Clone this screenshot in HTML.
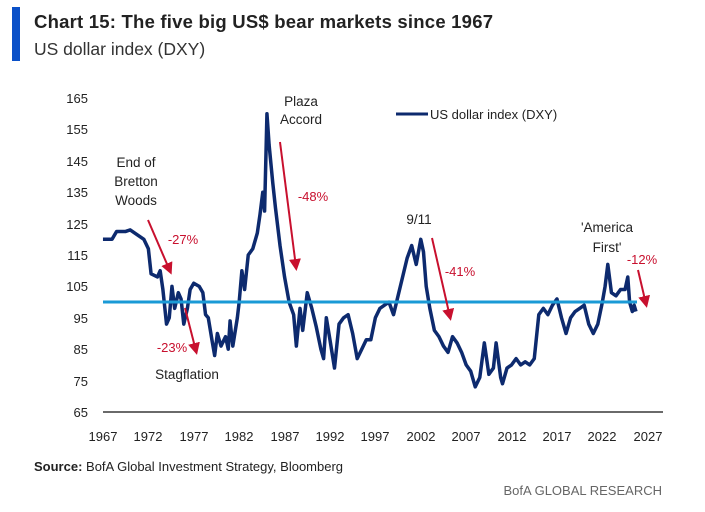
<!DOCTYPE html>
<html><head><meta charset="utf-8"><style>
body{margin:0;background:#fff;width:705px;height:507px;overflow:hidden;font-family:"Liberation Sans",sans-serif}
</style></head><body>
<svg width="705" height="507" xmlns="http://www.w3.org/2000/svg" font-family="Liberation Sans, sans-serif">
<rect x="12" y="7" width="8" height="54" fill="#0a50c8"/>
<text x="34" y="28" font-size="18.5" font-weight="bold" fill="#222" textLength="459">Chart 15: The five big US$ bear markets since 1967</text>
<text x="34" y="55" font-size="17.5" fill="#333">US dollar index (DXY)</text>
<g font-size="13" fill="#222" text-anchor="end">
<text x="88" y="103">165</text><text x="88" y="134">155</text><text x="88" y="166">145</text><text x="88" y="197">135</text><text x="88" y="229">125</text><text x="88" y="260">115</text><text x="88" y="291">105</text><text x="88" y="323">95</text><text x="88" y="354">85</text><text x="88" y="386">75</text><text x="88" y="417">65</text>
</g>
<g font-size="13" fill="#222" text-anchor="middle">
<text x="103" y="441">1967</text><text x="148" y="441">1972</text><text x="194" y="441">1977</text><text x="239" y="441">1982</text><text x="285" y="441">1987</text><text x="330" y="441">1992</text><text x="375" y="441">1997</text><text x="421" y="441">2002</text><text x="466" y="441">2007</text><text x="512" y="441">2012</text><text x="557" y="441">2017</text><text x="602" y="441">2022</text><text x="648" y="441">2027</text>
</g>
<line x1="103" y1="412" x2="663" y2="412" stroke="#111" stroke-width="1.2"/>
<g transform="translate(-17757.4,616.1) scale(9.08,-3.14)">
<polyline fill="none" stroke="#0d2a6e" stroke-width="3.5" vector-effect="non-scaling-stroke" stroke-linejoin="round" points="1967,120 1968,120 1968.5,122.5 1969.5,122.5 1970,123 1971,121 1971.5,120 1972,117 1972.3,109 1973,108 1973.3,110 1973.6,104 1974,93 1974.3,95 1974.6,105 1974.9,98 1975.3,103 1975.6,101 1975.9,93 1976.3,98 1976.6,104 1977,106 1977.6,105 1978,103 1978.3,96 1978.6,95 1979,88 1979.3,83 1979.6,90 1980,86 1980.5,89 1980.8,85 1981,94 1981.3,86 1981.8,95 1982,100 1982.3,110 1982.6,104 1983,115 1983.5,117 1984,122 1984.3,128 1984.6,135 1984.8,129 1985.06,160 1985.3,150 1985.7,138 1986,130 1986.5,118 1987,108 1987.5,100 1988,96 1988.3,86 1988.7,98 1989,91 1989.5,103 1990,98 1990.5,92 1991,85 1991.3,82 1991.6,95 1992,88 1992.5,79 1993,93 1993.5,95 1994,96 1994.5,90 1995,82 1995.5,85 1996,88 1996.5,88 1997,95 1997.5,98 1998,99 1998.5,100 1999,96 1999.5,102 2000,108 2000.5,114 2001,118 2001.5,112 2002,120 2002.3,116 2002.6,105 2003,98 2003.5,91 2004,89 2004.5,86 2005,84 2005.5,89 2006,87 2006.5,84 2007,80 2007.5,78 2008,73 2008.5,76 2009,87 2009.5,77 2010,79 2010.3,87 2010.8,76 2011,74 2011.5,79 2012,80 2012.5,82 2013,80 2013.5,81 2014,80 2014.5,82 2015,96 2015.5,98 2016,96 2016.5,99 2017,101 2017.5,95 2018,90 2018.5,95 2019,97 2019.5,98 2020,99 2020.5,93 2021,90 2021.5,93 2022,100 2022.3,105 2022.6,112 2023,103 2023.5,102 2024,104 2024.5,104 2024.8,108 2025,100 2025.3,97 2025.5,99 2025.7,97"/>
</g>
<line x1="103" y1="302" x2="637" y2="302" stroke="#1a9ad6" stroke-width="3"/>
<line x1="396" y1="114" x2="428" y2="114" stroke="#0d2a6e" stroke-width="3"/>
<text x="430" y="119" font-size="13" fill="#222">US dollar index (DXY)</text>
<defs><marker id="a" markerWidth="6" markerHeight="6" refX="4" refY="3" orient="auto" markerUnits="strokeWidth"><path d="M0,0 L6,3 L0,6 z" fill="#c8102e"/></marker></defs>
<g stroke="#c8102e" stroke-width="2" marker-end="url(#a)">
<line x1="148" y1="220" x2="170" y2="271"/>
<line x1="185" y1="308" x2="196" y2="351"/>
<line x1="280" y1="142" x2="296" y2="267"/>
<line x1="432" y1="238" x2="450" y2="317"/>
<line x1="638" y1="270" x2="646" y2="304"/>
</g>
<g font-size="13" fill="#c8102e" text-anchor="middle">
<text x="183" y="244">-27%</text><text x="172" y="352">-23%</text><text x="313" y="201">-48%</text><text x="460" y="276">-41%</text><text x="642" y="264">-12%</text>
</g>
<g font-size="13.5" fill="#222" text-anchor="middle">
<text x="136" y="167">End of</text><text x="136" y="186">Bretton</text><text x="136" y="205">Woods</text>
<text x="187" y="379">Stagflation</text>
<text x="301" y="106">Plaza</text><text x="301" y="124">Accord</text>
<text x="419" y="224">9/11</text>
<text x="607" y="232">'America</text><text x="607" y="252">First'</text>
</g>
<text x="34" y="471" font-size="13" fill="#222"><tspan font-weight="bold">Source:</tspan> BofA Global Investment Strategy, Bloomberg</text>
<text x="662" y="495" font-size="13" fill="#666" text-anchor="end">BofA GLOBAL RESEARCH</text>
</svg>
</body></html>
